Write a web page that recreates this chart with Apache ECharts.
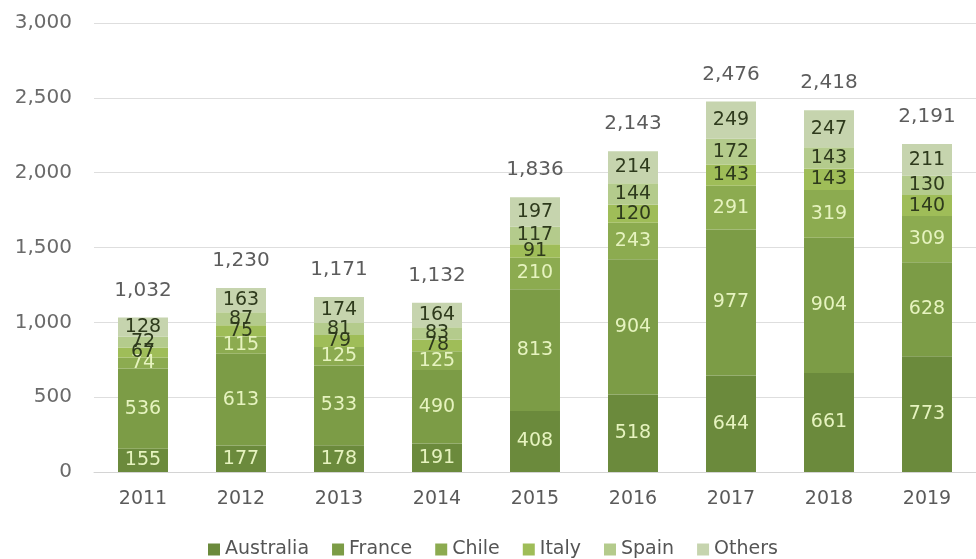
<!DOCTYPE html>
<html>
<head>
<meta charset="utf-8">
<script src="https://cdn.jsdelivr.net/npm/echarts@6/dist/echarts.min.js"></script>
<style>
  html, body { margin: 0; padding: 0; background: #ffffff; }
  #chart { width: 976px; height: 559px; }
</style>
</head>
<body>
<div id="chart"></div>
<script>
// Yearly volumes by origin, stacked
var years = ['2011', '2012', '2013', '2014', '2015', '2016', '2017', '2018', '2019'];
var australia = [155, 177, 178, 191, 408, 518, 644, 661, 773];
var france    = [536, 613, 533, 490, 813, 904, 977, 904, 628];
var chile     = [74, 115, 125, 125, 210, 243, 291, 319, 309];
var italy     = [67, 75, 79, 78, 91, 120, 143, 143, 140];
var spain     = [72, 87, 81, 83, 117, 144, 172, 143, 130];
var others    = [128, 163, 174, 164, 197, 214, 249, 247, 211];
var totals    = [1032, 1230, 1171, 1132, 1836, 2143, 2476, 2418, 2191];

var FONT = '"DejaVu Sans", Verdana, sans-serif';

function seg(name, data, color, labelColor) {
  return {
    name: name,
    type: 'bar',
    stack: 'total',
    barWidth: '51%',
    data: data,
    itemStyle: { color: color, borderWidth: 0 },
    label: {
      show: true,
      position: 'inside',
      color: labelColor,
      fontSize: 19,
      fontFamily: FONT
    },
    emphasis: { disabled: true }
  };
}

var chart = echarts.init(document.getElementById('chart'));
chart.setOption({
  animation: false,
  grid: { left: 94, right: 0, top: 23, bottom: 87, containLabel: false },
  legend: {
    top: 535,
    left: 203,
    itemWidth: 12,
    itemHeight: 12,
    itemGap: 23,
    icon: 'rect',
    textStyle: { fontSize: 19, color: '#555', fontFamily: FONT },
    data: ['Australia', 'France', 'Chile', 'Italy', 'Spain', 'Others']
  },
  xAxis: {
    type: 'category',
    data: years,
    axisLine: { lineStyle: { color: '#d4d4d4' } },
    axisTick: { show: false },
    axisLabel: { color: '#5a5a5a', fontSize: 19, margin: 18, fontFamily: FONT }
  },
  yAxis: {
    type: 'value',
    min: 0,
    max: 3000,
    interval: 500,
    axisLine: { show: false },
    axisTick: { show: false },
    splitLine: { lineStyle: { color: '#dedede' } },
    axisLabel: {
      color: '#6a6a6a',
      fontSize: 20,
      margin: 22,
      fontFamily: FONT,
      formatter: function (v) { return v.toLocaleString('en-US'); }
    }
  },
  series: [
    seg('Australia', australia, '#6b8a3c', '#e6f3bf'),
    seg('France', france, '#7c9c46', '#e6f3bf'),
    seg('Chile', chile, '#8cab50', '#e6f3bf'),
    seg('Italy', italy, '#9fbd58', '#2e3a1c'),
    seg('Spain', spain, '#b4cb8c', '#2e3a1c'),
    seg('Others', others, '#c6d4ae', '#2e3a1c'),
    {
      name: 'Total',
      type: 'scatter',
      data: totals,
      symbolSize: 2,
      itemStyle: { color: 'rgba(0,0,0,0)' },
      label: {
        show: true,
        position: 'top',
        distance: 16,
        color: '#333',
        fontSize: 20,
        fontFamily: FONT,
        formatter: function (p) { return p.value.toLocaleString('en-US'); }
      },
      silent: true,
      z: 5
    }
  ]
});
</script>
</body>
</html>
